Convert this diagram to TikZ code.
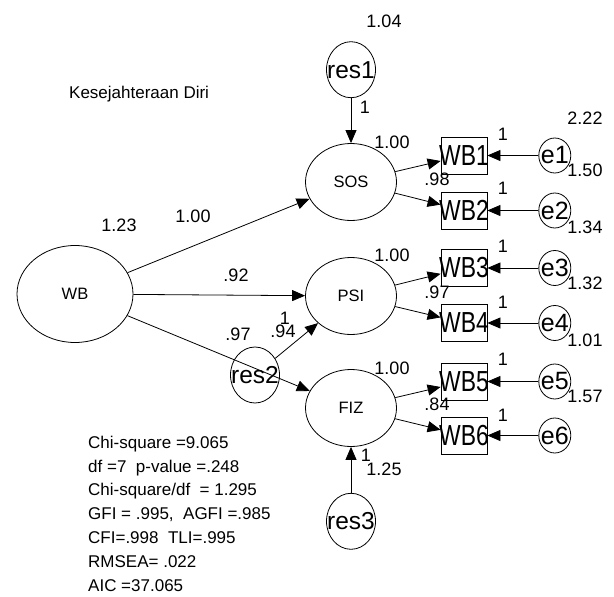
\documentclass[tikz,border=0pt]{standalone}
\usepackage{fontspec}
\setmainfont{Liberation Sans}
\usetikzlibrary{arrows.meta,positioning,shapes.geometric}
\newcommand{\fixw}[1]{\makebox[0pt]{#1}}
\newcommand{\wbtext}[1]{\makebox[0pt]{\scalebox{.79}[1]{#1}}}

\begin{document}
\begin{tikzpicture}[
  x=1pt, y=-1pt,
  latent/.style={draw, ellipse, inner sep=0pt, line width=0.8pt,
                 minimum width=91pt, minimum height=77pt,
                 font=\fontsize{16.5}{16.5}\selectfont},
  resid/.style={draw, ellipse, inner sep=0pt, line width=0.8pt,
                minimum width=49pt, minimum height=56pt,
                font=\fontsize{24.5}{24.5}\selectfont},
  err/.style={draw, ellipse, inner sep=0pt, line width=0.8pt,
              minimum width=32pt, minimum height=35pt,
              font=\fontsize{25}{25}\selectfont},
  obs/.style={draw, rectangle, inner sep=0pt, line width=0.8pt,
              minimum width=46pt, minimum height=37pt,
              font=\fontsize{29}{29}\selectfont},
  num/.style={inner sep=0pt, font=\fontsize{18}{18}\selectfont},
  txt/.style={inner sep=0pt, anchor=base west, font=\fontsize{17}{17}\selectfont},
  arr/.style={-{Triangle[length=13pt, width=11pt]}, line width=0.8pt}
]
  \useasboundingbox (0,0) rectangle (614,597);

  % latent variables
  \node[latent, minimum width=116pt, minimum height=97pt] (WB) at (75,294) {WB};
  \node[latent] (SOS) at (351,182) {SOS};
  \node[latent] (PSI) at (351,296) {PSI};
  \node[latent] (FIZ) at (351,408) {FIZ};
  \node[resid, above=45pt of SOS] (res1) {\fixw{res1}};
  \node[resid] (res2) at (255,375) {\fixw{res2}};
  \node[resid, below=46pt of FIZ] (res3) {\fixw{res3}};

  % indicators and errors
  \node[obs] (WB1) at (464,155.5) {\wbtext{WB1}};
  \node[obs] (WB2) at (464,210.5) {\wbtext{WB2}};
  \node[obs] (WB3) at (464,268)   {\wbtext{WB3}};
  \node[obs] (WB4) at (464,323)   {\wbtext{WB4}};
  \node[obs] (WB5) at (464,381.5) {\wbtext{WB5}};
  \node[obs] (WB6) at (464,435.5) {\wbtext{WB6}};
  \node[err, right=51pt of WB1] (e1) {\fixw{e1}};
  \node[err, right=51pt of WB2] (e2) {\fixw{e2}};
  \node[err, right=51pt of WB3] (e3) {\fixw{e3}};
  \node[err, right=51pt of WB4] (e4) {\fixw{e4}};
  \node[err, right=51pt of WB5] (e5) {\fixw{e5}};
  \node[err, right=51pt of WB6] (e6) {\fixw{e6}};

  % paths
  \draw[arr] (WB)   -- (SOS);
  \draw[arr] (WB)   -- (PSI);
  \draw[arr] (WB)   -- (FIZ);
  \draw[arr] (res1) -- (SOS);
  \draw[arr] (res2) -- (PSI);
  \draw[arr] (res3) -- (FIZ);
  \draw[arr] (SOS)  -- (WB1);
  \draw[arr] (SOS)  -- (WB2);
  \draw[arr] (PSI)  -- (WB3);
  \draw[arr] (PSI)  -- (WB4);
  \draw[arr] (FIZ)  -- (WB5);
  \draw[arr] (FIZ)  -- (WB6);
  \draw[arr] (e1)   -- (WB1);
  \draw[arr] (e2)   -- (WB2);
  \draw[arr] (e3)   -- (WB3);
  \draw[arr] (e4)   -- (WB4);
  \draw[arr] (e5)   -- (WB5);
  \draw[arr] (e6)   -- (WB6);

  % estimates
  \node[num] (vres1) at (384,21)  {1.04};
  \node[num] (wres1) at (365,107) {1};
  \node[num] (vWB)   at (119,225) {1.23};
  \node[num] (wSOS)  at (193,216) {1.00};
  \node[num] (wPSI)  at (236,275) {.92};
  \node[num] (wFIZ)  at (238,334) {.97};
  \node[num] (wres2) at (285,318) {1};
  \node[num] (vres2) at (283,331) {.94};
  \node[num] (wres3) at (366,455) {1};
  \node[num] (vres3) at (384,469) {1.25};
  \node[num] (wWB1)  at (392,142) {1.00};
  \node[num] (wWB2)  at (437,179) {.98};
  \node[num] (wWB3)  at (392,255) {1.00};
  \node[num] (wWB4)  at (437,292) {.97};
  \node[num] (wWB5)  at (392,368) {1.00};
  \node[num] (wWB6)  at (437,404) {.84};
  \node[num] (we1)   at (503,134) {1};
  \node[num] (we2)   at (503,188) {1};
  \node[num] (we3)   at (503,246) {1};
  \node[num] (we4)   at (503,302) {1};
  \node[num] (we5)   at (503,359) {1};
  \node[num] (we6)   at (503,415) {1};
  \node[num] (ve1)   at (585,118) {2.22};
  \node[num] (ve2)   at (585,170) {1.50};
  \node[num] (ve3)   at (585,227) {1.34};
  \node[num] (ve4)   at (585,283) {1.32};
  \node[num] (ve5)   at (585,340) {1.01};
  \node[num] (ve6)   at (585,396) {1.57};

  % title and fit
  \node[txt] (title) at (69,98)  {Kesejahteraan Diri};
  \node[txt] (fit1)  at (88,448) {Chi-square =9.065};
  \node[txt] (fit2)  at (88,472) {df =7\ \ p-value =.248};
  \node[txt] (fit3)  at (88,495.5) {Chi-square/df\ \ = 1.295};
  \node[txt] (fit4)  at (88,519) {GFI = .995,\ \ AGFI =.985};
  \node[txt] (fit5)  at (88,543) {CFI=.998\ \ TLI=.995};
  \node[txt] (fit6)  at (88,567) {RMSEA= .022};
  \node[txt] (fit7)  at (88,591) {AIC =37.065};
\end{tikzpicture}
\end{document}
